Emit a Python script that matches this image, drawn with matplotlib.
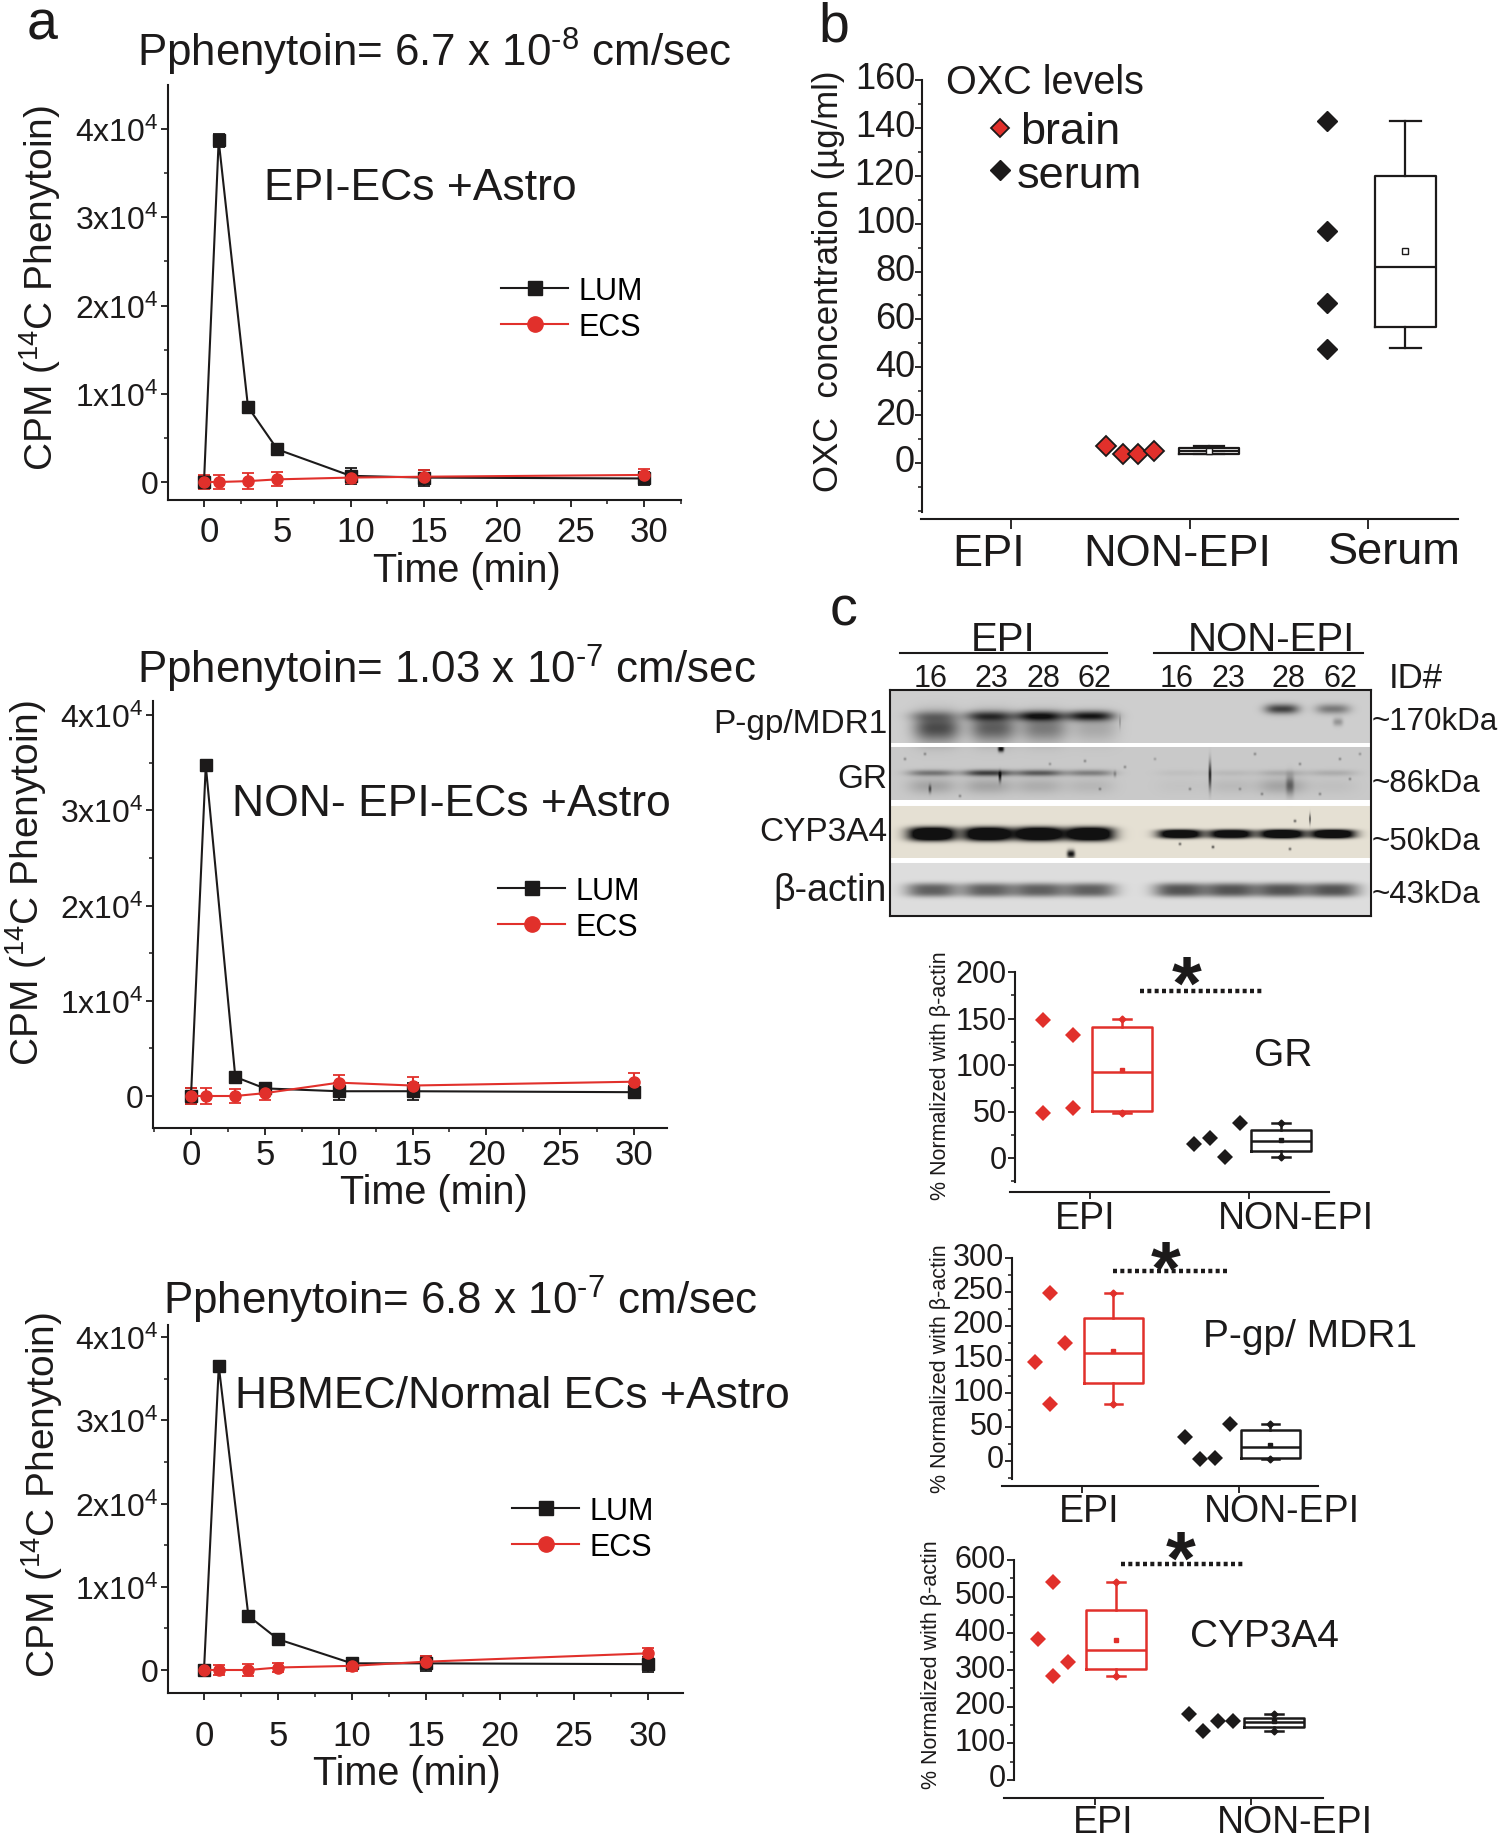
import numpy as np
import matplotlib
matplotlib.use('Agg')
from matplotlib import pyplot as plt
from matplotlib.lines import Line2D
from matplotlib.ticker import MultipleLocator
from matplotlib.transforms import ScaledTranslation

plt.rcParams['font.family'] = ['Liberation Sans', 'DejaVu Sans']
plt.rcParams['mathtext.fontset'] = 'custom'
plt.rcParams['mathtext.rm'] = 'Liberation Sans'
plt.rcParams['mathtext.it'] = 'Liberation Sans'
plt.rcParams['mathtext.bf'] = 'Liberation Sans'
plt.rcParams['mathtext.default'] = 'regular'

W, H = 1500, 1840
BLACK = '#1c1a1a'
RED = '#e1302b'

# panel a: time course
time_min = [0, 1, 3, 5, 10, 15, 30]
lum_1 = [0, 38700, 8500, 3700, 700, 500, 400]
ecs_1 = [0, 0, 100, 300, 500, 600, 800]
err_lum_1 = [700, 700, 400, 300, 900, 900, 700]
err_ecs_1 = [800, 800, 900, 800, 600, 800, 700]
lum_2 = [0, 34700, 2000, 800, 500, 500, 400]
ecs_2 = [0, 0, 0, 300, 1400, 1100, 1500]
err_lum_2 = [800, 500, 300, 500, 900, 900, 600]
err_ecs_2 = [800, 800, 700, 700, 800, 900, 900]
lum_3 = [0, 36500, 6500, 3700, 800, 800, 700]
ecs_3 = [0, 0, 0, 300, 500, 1000, 2000]
err_lum_3 = [600, 500, 300, 300, 600, 900, 900]
err_ecs_3 = [600, 600, 700, 600, 600, 700, 600]
cpm_ticks = [0, 10000, 20000, 30000, 40000]
cpm_labels = ['0', '1x10$^{4}$', '2x10$^{4}$', '3x10$^{4}$', '4x10$^{4}$']

# panel b: OXC
oxc_brain = [6.9, 3.7, 3.7, 5.1]
oxc_serum = [143, 97, 66.7, 47.8]
oxc_brain_box = dict(q1=3.8, med=5, q3=6.2, whislo=3.7, whishi=6.9, mean=5, fliers=[])
oxc_serum_box = dict(q1=57, med=82, q3=120, whislo=48, whishi=143, mean=88.7, fliers=[])

# panel c: blot band strengths per lane (EPI 16,23,28,62, NON-EPI 16,23,28,62)
pgp_band = [.25, .6, .85, .9, 0, 0, .75, .45]
pgp_smear = [.7, .6, .45, .2, 0, 0, 0, .3]
gr_band = [.45, .75, .6, .4, .05, .08, .15, .15]
gr_smear = [.2, .2, .15, .1, .03, .08, .2, .05]
cyp_band = [1, 1, 1, 1, .95, .9, 1, 1]
actin_band = [.62, .62, .62, .62, .68, .68, .68, .68]
lane_ids = ['16', '23', '28', '62', '16', '23', '28', '62']

# panel c: densitometry
gr_epi = [148.6, 132, 54, 48]
gr_non = [14.7, 22, 1, 38]
gr_epi_box = dict(q1=50.7, med=93, q3=140.6, whislo=48, whishi=149, mean=95, fliers=[])
gr_non_box = dict(q1=8, med=18.7, q3=30, whislo=1, whishi=38, mean=19, fliers=[])
pgp_epi = [146, 248, 174, 84]
pgp_non = [35, 3.4, 5, 55]
pgp_epi_box = dict(q1=115, med=160, q3=211, whislo=84, whishi=248, mean=163, fliers=[])
pgp_non_box = dict(q1=4, med=21, q3=46, whislo=3.4, whishi=55, mean=24, fliers=[])
cyp_epi = [384, 541, 323, 284]
cyp_non = [179, 133, 160, 160]
cyp_epi_box = dict(q1=304, med=354, q3=464, whislo=284, whishi=541, mean=383, fliers=[])
cyp_non_box = dict(q1=144, med=159, q3=170, whislo=133, whishi=179, mean=160, fliers=[])

fig = plt.figure(figsize=(W / 100, H / 100), dpi=100)


def ftext(x, y, s, size, ha='center', va='center', **kw):
    return fig.text(x / W, 1 - y / H, s, fontsize=size, ha=ha, va=va, color=BLACK, **kw)


def shift_labels(labels, dx, dy):
    # dx, dy in picture pixels, dy upward
    off = ScaledTranslation(dx / 100, dy / 100, fig.dpi_scale_trans)
    for lab in labels:
        lab.set_transform(lab.get_transform() + off)


def make_ax(x0, x1, ytop, ybot, xa, xb, ya, yb):
    # xa, xb, ya, yb are (pixel, value) pairs that fix the scales
    ax = fig.add_axes([x0 / W, 1 - ybot / H, (x1 - x0) / W, (ybot - ytop) / H])
    ax.patch.set_alpha(0)
    sx = (xb[1] - xa[1]) / (xb[0] - xa[0])
    sy = (yb[1] - ya[1]) / (yb[0] - ya[0])
    ax.set_xlim(xa[1] + (x0 - xa[0]) * sx, xa[1] + (x1 - xa[0]) * sx)
    ax.set_ylim(ya[1] + (ybot - ya[0]) * sy, ya[1] + (ytop - ya[0]) * sy)
    for s in ['top', 'right']:
        ax.spines[s].set_visible(False)
    for s in ['left', 'bottom']:
        ax.spines[s].set_linewidth(1.5)
        ax.spines[s].set_color(BLACK)
    ax.tick_params(which='major', length=5, width=1.3, color=BLACK, labelcolor=BLACK)
    ax.tick_params(which='minor', length=3, width=1.1, color=BLACK)
    return ax


def time_panel(box, x0_px, x30_px, y0_px, y4_px, lum, ecs, err_lum, err_ecs, title, title_xy,
               note, note_xy, ylab_xy, xlab_xy, leg_xy, xpad, xshift):
    ax = make_ax(box[0], box[1], box[2], box[3], (x0_px, 0), (x30_px, 30), (y0_px, 0), (y4_px, 40000))
    ax.errorbar(time_min, lum, yerr=err_lum, color=BLACK, marker='s', ms=8, lw=1.5, capsize=4,
                capthick=1.3, elinewidth=1.5)
    ax.errorbar(time_min, ecs, yerr=err_ecs, color=RED, marker='o', ms=8, lw=1.5, capsize=4,
                capthick=1.3, elinewidth=1.5)
    ax.set_xticks([0, 5, 10, 15, 20, 25, 30])
    ax.xaxis.set_minor_locator(MultipleLocator(2.5))
    ax.set_yticks(cpm_ticks)
    ax.set_yticklabels(cpm_labels)
    ax.yaxis.set_minor_locator(MultipleLocator(5000))
    ax.tick_params(axis='x', labelsize=25, pad=xpad)
    ax.tick_params(axis='y', labelsize=23, pad=2)
    shift_labels(ax.get_xticklabels(), xshift, 0)
    ftext(title_xy[0], title_xy[1], title, 31.6)
    ftext(note_xy[0], note_xy[1], note, 32)
    ftext(ylab_xy[0], ylab_xy[1], 'CPM ($^{14}$C Phenytoin)', 28, rotation=90)
    ftext(xlab_xy[0], xlab_xy[1], 'Time (min)', 28.5)
    handles = [Line2D([], [], color=BLACK, marker='s', ms=10, lw=1.5),
               Line2D([], [], color=RED, marker='o', ms=11, lw=1.5)]
    ax.legend(handles=handles, labels=['LUM', 'ECS'], loc='center left',
              bbox_to_anchor=(leg_xy[0] / W, 1 - leg_xy[1] / H),
              bbox_transform=fig.transFigure, frameon=False, fontsize=22, borderpad=0,
              borderaxespad=0, handlelength=2.2, handletextpad=0.35, labelspacing=0.2)
    return ax


time_panel((168, 681, 86, 501), 204, 644, 483, 130, lum_1, ecs_1, err_lum_1, err_ecs_1,
           'Pphenytoin= 6.7 x 10$^{\\text{-}8}$ cm/sec', (434, 52), 'EPI-ECs +Astro', (420, 188),
           (40, 288), (467, 571), (501, 310), 5.5, 5)
time_panel((153, 667, 702, 1129), 191, 634, 1097, 716, lum_2, ecs_2, err_lum_2, err_ecs_2,
           'Pphenytoin= 1.03 x 10$^{\\text{-}7}$ cm/sec', (446, 669), 'NON- EPI-ECs +Astro', (451, 805),
           (26, 883), (434, 1193), (498, 910), 2, 0)
time_panel((168, 683, 1326, 1694), 204, 648, 1671, 1338, lum_3, ecs_3, err_lum_3, err_ecs_3,
           'Pphenytoin= 6.8 x 10$^{\\text{-}7}$ cm/sec', (460, 1300), 'HBMEC/Normal ECs +Astro', (512, 1397),
           (42, 1495), (407, 1774), (512, 1530), 14, 0)

ftext(42, 25, 'a', 40)
ftext(834, 28, 'b', 40)
ftext(843, 612, 'c', 40)

# panel b
ax = make_ax(921, 1458, 81, 520, (1011, 1), (1368, 3), (464, 0), (81, 160))
ax.spines['left'].set_position(('axes', 1 / 537))
ax.spines['left'].set_bounds(-20.5, 160)
ax.plot([1.535, 1.625, 1.71, 1.8], oxc_brain, ls='none', marker='D', ms=10, mfc=RED, mec=BLACK, mew=1.3)
ax.plot([2.77] * 4, oxc_serum, ls='none', marker='D', ms=10, color=BLACK)
box_style = dict(showmeans=True, showfliers=False, widths=0.34, capwidths=0.17,
                 boxprops=dict(color=BLACK, lw=1.6), whiskerprops=dict(color=BLACK, lw=1.6),
                 capprops=dict(color=BLACK, lw=1.6), medianprops=dict(color=BLACK, lw=1.6),
                 meanprops=dict(marker='s', ms=4, mfc='white', mec=BLACK, mew=1))
ax.bxp([oxc_brain_box, oxc_serum_box], positions=[2.11, 3.21], manage_ticks=False, **box_style)
ax.set_xticks([1, 2, 3])
ax.set_xticklabels([])
ax.set_yticks(range(0, 161, 20))
ax.yaxis.set_minor_locator(MultipleLocator(10))
ax.tick_params(axis='y', labelsize=26, pad=0)
ax.tick_params(axis='x', length=7)
shift_labels(ax.get_yticklabels(), 0, 5)
ftext(989, 555, 'EPI', 32.5)
ftext(1177, 555, 'NON-EPI', 32.5)
ftext(1394, 552, 'Serum', 32.5)
ftext(828, 281, 'OXC  concentration (µg/ml)', 25, rotation=90)
ftext(1045, 83, 'OXC levels', 28.5)
ftext(1020, 133, 'brain', 32.5, ha='left')
ftext(1017, 177, 'serum', 32.5, ha='left')
ax.legend(handles=[Line2D([], [], ls='none', marker='D', ms=9, mfc=RED, mec=BLACK, mew=1.3),
                   Line2D([], [], ls='none', marker='D', ms=10, color=BLACK)],
          labels=['', ''], loc='center', bbox_to_anchor=(1000 / W, 1 - 152 / H),
          bbox_transform=fig.transFigure, frameon=False, borderpad=0, borderaxespad=0,
          handlelength=1, handletextpad=0, labelspacing=0.95, fontsize=16)

# panel c: blot
bx0, bx1, by0, by1 = 890, 1371, 691, 917
X, Y = np.meshgrid(np.arange(bx0, bx1) + .5, np.arange(by0, by1) + .5)
lane_x = [932, 988, 1039, 1090, 1180, 1231, 1282, 1333]


def blob(cx, cy, wx, hy, amp, py=2):
    return amp * np.exp(-np.abs((X - cx) / wx) ** 3 - np.abs((Y - cy) / hy) ** py)


dark = np.zeros(X.shape)
for i, cx in enumerate(lane_x):
    band_y = 717 if i < 4 else 710
    dark += blob(cx, band_y, 24 if i < 4 else 17, 5, pgp_band[i])
    dark += blob(cx + 5, 729 if i != 7 else 723, 23 if i != 7 else 5, 14 if i != 7 else 4, pgp_smear[i])
    dark += blob(cx, 774, 24, 3.2, gr_band[i])
    dark += blob(cx, 787, 24, 8, gr_smear[i])
    dark += blob(cx, 835, 24 if i < 4 else 22, 7 if i < 4 else 4.5, 1.6 * cyp_band[i], 3)
    dark += blob(cx, 891, 26, 7, actin_band[i], 3)
for sx, sy, sw, sh, amp in [(1001, 750, 3, 3, 1), (1210, 776, 1.5, 13, .8), (1071, 855, 4, 4, 1),
                            (1000, 778, 1.5, 5, .7), (1120, 723, 1, 6, .2), (1085, 762, 1.5, 1.5, .3),
                            (1125, 768, 1.5, 1.5, .3), (1255, 755, 1.5, 1.5, .3), (1300, 765, 1.5, 1.5, .3),
                            (1340, 760, 1.5, 1.5, .3), (930, 790, 1.5, 4, .5), (1290, 786, 4, 10, .4),
                            (1295, 822, 1.5, 1.5, .5), (1180, 845, 1.5, 1.5, .5), (1213, 848, 1.5, 1.5, .6),
                            (905, 760, 1.5, 1.5, .3), (925, 755, 1.5, 1.5, .3), (960, 797, 1.5, 1.5, .3),
                            (1050, 765, 1.5, 1.5, .25), (1100, 790, 1.5, 1.5, .3), (1115, 775, 1.5, 3, .25),
                            (1155, 760, 1.5, 1.5, .2), (1190, 790, 1.5, 1.5, .3), (1240, 790, 1.5, 1.5, .25),
                            (1262, 795, 1.5, 1.5, .3), (1320, 795, 1.5, 1.5, .3), (1350, 780, 1.5, 1.5, .3),
                            (1360, 755, 1.5, 1.5, .25), (1310, 820, 1, 5, .6), (1290, 850, 1.5, 1.5, .5)]:
    dark += blob(sx, sy, sw, sh, amp)
dark = np.clip(dark, 0, 1)
img = np.ones(X.shape + (3,))
strips = [(691, 744, (.81, .81, .81)), (748, 801, (.79, .79, .79)),
          (807, 859, (.90, .88, .83)), (864, 917, (.87, .87, .87))]
for top, bot, bg in strips:
    mask = (Y >= top) & (Y < bot)
    for c in range(3):
        img[..., c][mask] = (bg[c] * (1 - dark) + 0.07 * dark)[mask]
ax = fig.add_axes([bx0 / W, 1 - by1 / H, (bx1 - bx0) / W, (by1 - by0) / H])
ax.imshow(img, aspect='auto', interpolation='bilinear', extent=(bx0, bx1, by1, by0))
ax.set_xticks([])
ax.set_yticks([])
for s in ax.spines.values():
    s.set_linewidth(1.5)
    s.set_color(BLACK)

ftext(1003, 640, 'EPI', 29)
ftext(1271, 640, 'NON-EPI', 29)
for x0, x1 in [(900, 1107), (1154, 1363)]:
    fig.add_artist(Line2D([x0 / W, x1 / W], [1 - 654 / H] * 2, color=BLACK, lw=1.5))
for x, s in zip([931, 991, 1043, 1094, 1177, 1228, 1288, 1340], lane_ids):
    ftext(x, 679, s, 22)
ftext(1416, 679, 'ID#', 25)
for y, s, fs in zip([725, 779, 833, 891], ['P-gp/MDR1', 'GR', 'CYP3A4', 'β-actin'], [24, 24, 24, 27]):
    ftext(887, y, s, fs, ha='right')
for y, s in zip([722, 784, 842, 895], ['~170kDa', '~86kDa', '~50kDa', '~43kDa']):
    ftext(1372, y, s, 22.5, ha='left')


def density_panel(box, spine_x, spine_low, x1_px, x2_px, y0, ytop, ymax, ystep, epi, non, epi_box, non_box,
                  epi_pos, non_pos, box_pos, dots, star, name, name_xy, lab_y, lab_x, ylab_xy, yshift):
    ax = make_ax(box[0], box[1], box[2], box[3], (x1_px, 1), (x2_px, 2), (y0, 0), (ytop, ymax))
    ax.spines['left'].set_position(('axes', (spine_x - box[0]) / (box[1] - box[0])))
    ax.spines['left'].set_bounds(spine_low, ymax)
    ax.plot(epi_pos, epi, ls='none', marker='D', ms=8, color=RED, mew=0)
    ax.plot(non_pos, non, ls='none', marker='D', ms=8, color=BLACK, mew=0)
    for stats, pos, col in [(epi_box, box_pos[0], RED), (non_box, box_pos[1], BLACK)]:
        ax.bxp([stats], positions=[pos], manage_ticks=False, showmeans=True, showfliers=False,
               widths=0.38, capwidths=0.11,
               boxprops=dict(color=col, lw=1.8), whiskerprops=dict(color=col, lw=1.8),
               capprops=dict(color=col, lw=1.8), medianprops=dict(color=col, lw=1.8),
               meanprops=dict(marker='s', ms=3.5, mfc=col, mec=col))
        ax.plot([pos, pos], [stats['whislo'], stats['whishi']], ls='none', marker='D', ms=3.5, color=col)
    ax.set_xticks([1, 2])
    ax.set_xticklabels([])
    ax.set_yticks(np.arange(0, ymax + 1, ystep))
    ax.yaxis.set_minor_locator(MultipleLocator(ystep / 2))
    ax.tick_params(axis='y', labelsize=22, pad=1)
    shift_labels(ax.get_yticklabels(), 0, yshift)
    fig.add_artist(Line2D([dots[0] / W, dots[1] / W], [1 - dots[2] / H] * 2, color=BLACK, lw=3.2, ls=(0, (0.9, 0.75))))
    ftext(star[0], star[1] + 16, '*', 55, weight='bold')
    ftext(name_xy[0], name_xy[1], name, 28)
    ftext(lab_x[0], lab_y, 'EPI', 27)
    ftext(lab_x[1], lab_y, 'NON-EPI', 27)
    ftext(ylab_xy[0], ylab_xy[1], '% Normalized with β-actin', 15.5, rotation=90)


density_panel((1010, 1329, 973, 1193), 1015, -26, 1090, 1249, 1159, 973, 200, 50, gr_epi, gr_non,
              gr_epi_box, gr_non_box, [0.705, 0.89, 0.89, 0.705], [1.655, 1.755, 1.85, 1.945], [1.2, 2.2],
              (1140, 1262, 992), (1187, 973), 'GR', (1283, 1056), 1219, (1085, 1296), (940, 1076), 1.5)
density_panel((1002, 1318, 1259, 1487), 1012, -26.6, 1082, 1239, 1462, 1259, 300, 50, pgp_epi, pgp_non,
              pgp_epi_box, pgp_non_box, [0.70, 0.796, 0.89, 0.796], [1.656, 1.75, 1.847, 1.94], [1.2, 2.2],
              (1113, 1227, 1272), (1166, 1258), 'P-gp/ MDR1', (1310, 1337), 1512, (1089, 1282), (940, 1369), 5)
density_panel((1004, 1323, 1561, 1799), 1014, 0, 1095, 1251, 1781, 1561, 600, 100, cyp_epi, cyp_non,
              cyp_epi_box, cyp_non_box, [0.635, 0.73, 0.825, 0.73], [1.6, 1.69, 1.79, 1.885], [1.135, 2.147],
              (1121, 1243, 1565), (1181, 1548), 'CYP3A4', (1264, 1637), 1823, (1103, 1295), (932, 1665), 5)

fig.savefig('out.png', dpi=100)
